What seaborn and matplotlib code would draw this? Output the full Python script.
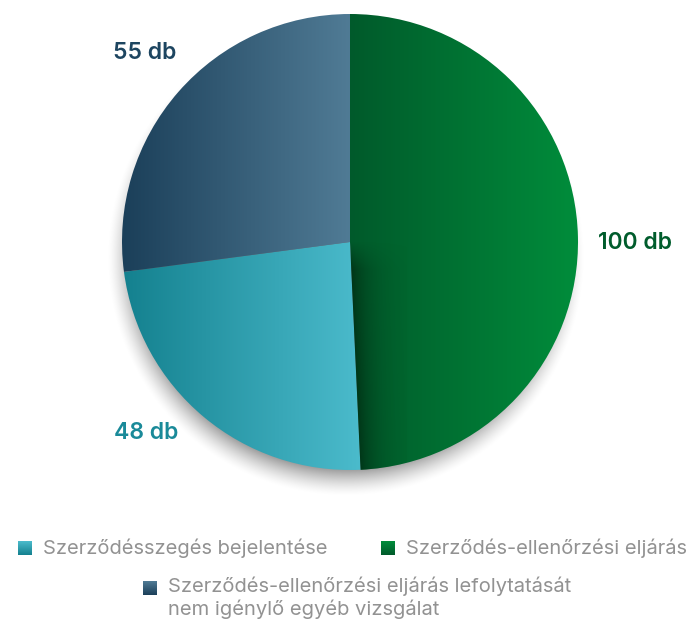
import numpy as np
import matplotlib.pyplot as plt
import seaborn as sns
from matplotlib.colors import LinearSegmentedColormap, to_rgb

# Data
categories = ["Szerződés-ellenőrzési eljárás",
              "Szerződésszegés bejelentése",
              "Szerződés-ellenőrzési eljárás lefolytatását\nnem igénylő egyéb vizsgálat"]
values = [100, 48, 55]
value_labels = ["100 db", "48 db", "55 db"]

# colours: (dark, light) for each slice, text colour for the value label
grad_colors = [("#005a2b", "#008d3b"), ("#14818f", "#4bbbcc"), ("#1b3f59", "#507b95")]
label_colors = ["#005c2c", "#1a8a99", "#1d4560"]

sns.set_theme(style="white")
plt.rcParams['font.family'] = ['Inter', 'DejaVu Sans']

W, H = 696, 626
fig = plt.figure(figsize=(W / 100, H / 100), dpi=100)
ax = fig.add_axes([0, 0, 1, 1])

# pixel -> data helpers (pie centre at px (350, 242), radius 228 px)
cx, cy, R = 350, 242, 228
def dx(px): return (px - cx) / R
def dy(py): return (cy - py) / R

ax.axis("off")

# drop shadow behind the pie
n = 400
xs = np.linspace(-1.4, 1.4, n)
X, Y = np.meshgrid(xs, xs)
dist = np.hypot(X + 0.02, Y + 0.07)
a = np.clip((1.05 - dist) / 0.15, 0, 1) ** 1.5 * 0.55
shadow = np.zeros((n, n, 4))
shadow[..., 3] = a
ax.imshow(shadow, extent=(-1.4, 1.4, -1.4, 1.4), origin="lower", zorder=0,
          interpolation="bilinear")

wedges, _ = ax.pie(values, startangle=90, counterclock=False, radius=1,
                   wedgeprops=dict(facecolor="none", edgecolor="none"))

grad = np.linspace(0, 1, 256).reshape(1, -1)
for w, (c0, c1) in zip(wedges, grad_colors):
    bb = w.get_path().get_extents()
    cmap = LinearSegmentedColormap.from_list("g", [c0, c1])
    im = ax.imshow(grad, cmap=cmap, aspect="auto", origin="lower",
                   extent=(bb.x0, bb.x1, bb.y0, bb.y1), zorder=2,
                   interpolation="bilinear")
    im.set_clip_path(w)

# inner shade along the lower edge of the green slice
gw = wedges[0]
xs2 = np.linspace(0, 0.25, 200)
ys2 = np.linspace(-1.0, 0.05, 300)
X2, Y2 = np.meshgrid(xs2, ys2)
edge_x = -Y2 * (10 / 226)  # boundary leans slightly right toward the bottom
d = np.clip(X2 - edge_x, 0, None)
fade_y = np.clip(-Y2 / 0.12, 0, 1)
alpha = 0.75 * np.exp(-d / 0.07) * fade_y
shade = np.zeros(X2.shape + (4,))
shade[..., :3] = to_rgb("#002a12")
shade[..., 3] = alpha
im = ax.imshow(shade, extent=(0, 0.25, -1.0, 0.05), origin="lower", aspect="auto",
               zorder=3, interpolation="bilinear")
im.set_clip_path(gw)

# value labels
label_pos = [(635, 243), (146, 433), (145, 53)]
for (px, py), txt, col in zip(label_pos, value_labels, label_colors):
    ax.text(dx(px), dy(py), txt, color=col, fontsize=16.5, fontweight="semibold",
            ha="center", va="center", zorder=5)

# legend with gradient squares
leg_items = [(1, 18, 548), (0, 381, 548), (2, 143, 588)]
vgrad = np.linspace(0, 1, 64).reshape(-1, 1)
for idx, px, py in leg_items:
    c0, c1 = grad_colors[idx]
    cmap = LinearSegmentedColormap.from_list("l", [c0, c1])
    s = 14
    ax.imshow(vgrad, cmap=cmap, origin="lower", aspect="auto",
              extent=(dx(px), dx(px + s), dy(py + s / 2), dy(py - s / 2)), zorder=5)
    top = py - 11 if idx == 2 else py
    ax.text(dx(px + 25), dy(top), categories[idx], color="#929292", fontsize=14.5,
            ha="left", va="center" if idx != 2 else "top", linespacing=1.18, zorder=5)

ax.set_xlim(dx(0), dx(W))
ax.set_ylim(dy(H), dy(0))
ax.set_aspect("equal")
fig.savefig("out.png", dpi=100, facecolor="white")
